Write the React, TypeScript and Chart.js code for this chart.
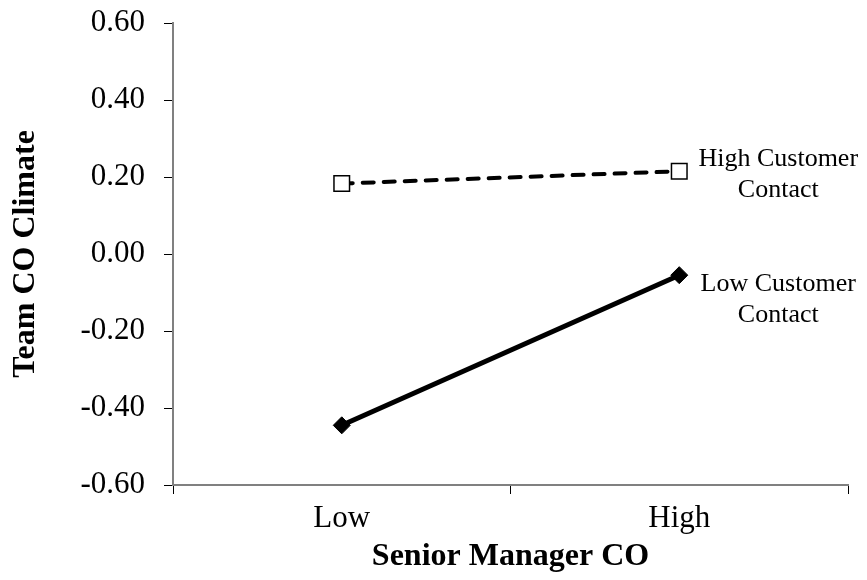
import React, { useEffect, useRef } from "react";
import { Chart, registerables } from "chart.js";

Chart.register(...registerables);

const categories = ["Low", "High"];
const highContact = [0.183, 0.215];
const lowContact = [-0.445, -0.055];
const seriesLabels = [["High Customer", "Contact"], ["Low Customer", "Contact"]];
const yTitle = "Team CO Climate";
const xTitle = "Senior Manager CO";

const FONT = '"Liberation Serif", "Times New Roman", serif';

const labelPlugin = {
  id: "lineLabels",
  afterDatasetsDraw(chart: any) {
    const { ctx, scales } = chart;
    const xs = scales.x;
    const ys = scales.y;
    const offsets = [
      [-12, 19],
      [9, 40],
    ];
    ctx.save();
    ctx.font = `26px ${FONT}`;
    ctx.fillStyle = "#000";
    ctx.textAlign = "center";
    ctx.textBaseline = "middle";
    chart.data.datasets.forEach((ds: any, i: number) => {
      const last = ds.data.length - 1;
      const px = xs.getPixelForValue(last) + 99;
      const py = ys.getPixelForValue(ds.data[last]);
      seriesLabels[i].forEach((line, j) => {
        ctx.fillText(line, px, py + offsets[i][j]);
      });
    });
    ctx.restore();
  },
};

export default function App() {
  const ref = useRef<HTMLCanvasElement>(null);
  useEffect(() => {
    if (!ref.current) return;
    const chart = new Chart(ref.current, {
      type: "line",
      data: {
        labels: categories,
        datasets: [
          {
            label: "High Customer Contact",
            data: highContact,
            borderColor: "#000",
            borderWidth: 4,
            borderDash: [11, 10],
            borderCapStyle: "round",
            pointStyle: "rect",
            pointRadius: 11,
            pointBackgroundColor: "#fff",
            pointBorderColor: "#000",
            pointBorderWidth: 1.5,
            tension: 0,
          },
          {
            label: "Low Customer Contact",
            data: lowContact,
            borderColor: "#000",
            borderWidth: 5,
            pointStyle: "rectRot",
            pointRadius: 8.5,
            pointBackgroundColor: "#000",
            pointBorderColor: "#000",
            pointBorderWidth: 1,
            tension: 0,
          },
        ],
      },
      options: {
        responsive: false,
        animation: false,
        layout: { padding: { top: 23, right: 19, bottom: 0, left: 0 } },
        plugins: {
          legend: { display: false },
          tooltip: { enabled: false },
        },
        scales: {
          x: {
            type: "category",
            offset: true,
            grid: {
              offset: true,
              drawOnChartArea: false,
              tickLength: 9,
              color: "#000",
              lineWidth: 1,
            },
            border: { display: true, color: "#808080", width: 2 },
            ticks: { color: "#000", font: { family: FONT, size: 31 }, padding: 6 },
            title: {
              display: true,
              text: xTitle,
              color: "#000",
              font: { family: FONT, size: 32, weight: "bold" },
              padding: { top: 0, bottom: 4 },
            },
            afterFit(scale: any) {
              scale.height = 95;
              scale.paddingLeft = 0;
              scale.paddingRight = 0;
            },
          },
          y: {
            min: -0.6,
            max: 0.6,
            ticks: {
              stepSize: 0.2,
              color: "#000",
              font: { family: FONT, size: 31 },
              padding: 19,
              callback: (v: any) => Number(v).toFixed(2),
            },
            grid: {
              drawOnChartArea: false,
              tickLength: 9,
              color: "#000",
              lineWidth: 1,
            },
            border: { display: true, color: "#808080", width: 2 },
            title: {
              display: true,
              text: yTitle,
              color: "#000",
              font: { family: FONT, size: 32, weight: "bold" },
              padding: { top: 7, bottom: 0 },
            },
            afterFit(scale: any) {
              scale.width = 173;
              scale.paddingTop = 0;
              scale.paddingBottom = 0;
            },
          },
        },
      },
      plugins: [labelPlugin],
    });
    return () => chart.destroy();
  }, []);
  return (
    <div style={{ position: "fixed", left: 0, top: 0, width: 867, height: 580, background: "#fff" }}>
      <canvas ref={ref} width={867} height={580} />
    </div>
  );
}
